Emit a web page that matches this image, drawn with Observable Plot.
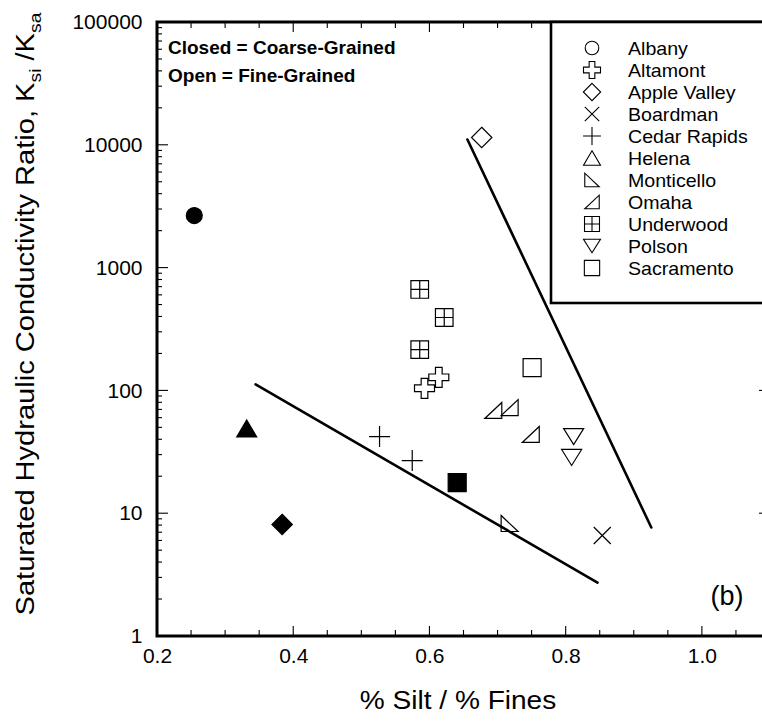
<!DOCTYPE html>
<html><head><meta charset="utf-8">
<script src="https://cdn.jsdelivr.net/npm/d3@7"></script>
<script src="https://cdn.jsdelivr.net/npm/@observablehq/plot@0.6"></script>
<style>
html,body{margin:0;padding:0;background:#fff;}
#chart{position:relative;width:762px;height:721px;overflow:hidden;}
</style></head><body><div id="chart"></div>
<script>
// ---- data ----
const sites  = ["Albany","Helena","Apple Valley","Cedar Rapids","Cedar Rapids","Sacramento","Underwood","Underwood","Underwood","Altamont","Altamont","Sacramento","Omaha","Omaha","Omaha","Polson","Polson","Monticello","Boardman","Apple Valley"];
const siltFrac = [0.254,0.331,0.383,0.526,0.574,0.640,0.585,0.621,0.585,0.613,0.592,0.750,0.693,0.717,0.748,0.811,0.808,0.717,0.853,0.676];
const ksRatio  = [2680,49.4,8.17,42.5,27.1,17.9,670,396,217,129,105,155,69.3,73.2,44.2,42.5,28.7,8.32,6.64,11580];
const closed   = [true,true,true,false,false,true,false,false,false,false,false,false,false,false,false,false,false,false,false,false];

const legendSites = ["Albany","Altamont","Apple Valley","Boardman","Cedar Rapids","Helena","Monticello","Omaha","Underwood","Polson","Sacramento"];

const upperLineX = [0.655,0.925];
const upperLineY = [11150,7.72];
const lowerLineX = [0.344,0.846];
const lowerLineY = [113,2.75];

const xMajorTicks = [0.2,0.4,0.6,0.8,1.0];
const xMinorTicks = [0.25,0.3,0.35,0.45,0.5,0.55,0.65,0.7,0.75,0.85,0.9,0.95,1.05];
const yMajorTicks = [1,10,100,1000,10000,100000];
const yMinorTicks = [2,3,4,5,6,7,8,9,20,30,40,50,60,70,80,90,200,300,400,500,600,700,800,900,2000,3000,4000,5000,6000,7000,8000,9000,20000,30000,40000,50000,60000,70000,80000,90000];

// ---- custom symbols ----
function sym(fn){ return {draw(c, size){ fn(c, Math.sqrt(size/Math.PI)); }}; }
function poly(c, pts){ c.moveTo(pts[0][0],pts[0][1]); for(let i=1;i<pts.length;i++) c.lineTo(pts[i][0],pts[i][1]); c.closePath(); }
const symbols = {
  "Albany": sym((c,r)=>{const a=0.8*r; c.moveTo(a,0); c.arc(0,0,a,0,2*Math.PI); c.closePath();}),
  "Altamont": sym((c,r)=>{const a=r, b=r/3; poly(c,[[-b,-a],[b,-a],[b,-b],[a,-b],[a,b],[b,b],[b,a],[-b,a],[-b,b],[-a,b],[-a,-b],[-b,-b]]);}),
  "Apple Valley": sym((c,r)=>{const a=1.02*r; poly(c,[[0,-a],[a,0],[0,a],[-a,0]]);}),
  "Boardman": sym((c,r)=>{const a=0.85*r; c.moveTo(-a,-a); c.lineTo(a,a); c.moveTo(a,-a); c.lineTo(-a,a);}),
  "Cedar Rapids": sym((c,r)=>{const a=1.05*r; c.moveTo(-a,0); c.lineTo(a,0); c.moveTo(0,-a); c.lineTo(0,a);}),
  "Helena": sym((c,r)=>{const a=r, h=0.85*r; poly(c,[[0,-h],[a,h],[-a,h]]);}),
  "Monticello": sym((c,r)=>{const a=0.85*r, h=0.8*r; poly(c,[[-a,-h],[-a,h],[a,h]]);}),
  "Omaha": sym((c,r)=>{const a=0.85*r, h=0.8*r; poly(c,[[a,-h],[a,h],[-a,h]]);}),
  "Underwood": sym((c,r)=>{const a=0.88*r; poly(c,[[-a,-a],[a,-a],[a,a],[-a,a]]); c.moveTo(0,-a); c.lineTo(0,a); c.moveTo(-a,0); c.lineTo(a,0);}),
  "Polson": sym((c,r)=>{const a=r, h=0.8*r; poly(c,[[-a,-h],[a,-h],[0,h]]);}),
  "Sacramento": sym((c,r)=>{const a=0.9*r; poly(c,[[-a,-a],[a,-a],[a,a],[-a,a]]);})
};

const idx = d3.range(sites.length);
const fontFam = "'Liberation Sans', Arial, Helvetica, sans-serif";

const dotMarks = [];
for (const s of legendSites) {
  dotMarks.push(Plot.dot(idx, {filter: i => sites[i]===s && !closed[i], x: i=>siltFrac[i], y: i=>ksRatio[i], symbol: symbols[s], r: 10, fill: "none", stroke: "black", strokeWidth: 1.2}));
  dotMarks.push(Plot.dot(idx, {filter: i => sites[i]===s && closed[i], x: i=>siltFrac[i], y: i=>ksRatio[i], symbol: symbols[s], r: 10, fill: "black", stroke: "black", strokeWidth: 1.2}));
}

const plot = Plot.plot({
  width: 762, height: 721,
  marginLeft: 157, marginRight: 0, marginTop: 22, marginBottom: 85,
  style: {fontFamily: fontFam, color: "black", background: "white"},
  x: {domain: [0.2, 1.1], range: [157, 770]},
  y: {type: "log", domain: [1, 100000], range: [636, 22]},
  marks: [
    Plot.axisX({ticks: xMajorTicks, tickSize: 0, tickPadding: 12, tickFormat: d3.format(".1f"), fontSize: 21, label: null}),
    Plot.axisY({ticks: yMajorTicks, tickSize: 0, tickPadding: 15, tickFormat: d => String(d), fontSize: 21, label: null}),
    Plot.line(upperLineX.map((x,i)=>({x, y: upperLineY[i]})), {x:"x", y:"y", stroke:"black", strokeWidth: 2.6}),
    Plot.line(lowerLineX.map((x,i)=>({x, y: lowerLineY[i]})), {x:"x", y:"y", stroke:"black", strokeWidth: 2.6}),
    ...dotMarks
  ]
});
document.getElementById("chart").appendChild(plot);

// ---- frame, ticks, annotations using the plot's own scales ----
const sx = plot.scale("x"), sy = plot.scale("y");
const X = v => sx.apply(v), Y = v => sy.apply(v);
const svg = d3.select(plot);
const x0 = X(0.2), x1 = X(1.1), y0 = Y(1), y1 = Y(100000);
const g = svg.append("g").attr("stroke", "black").attr("stroke-width", 1.1);
function tx(vals, len){ for (const v of vals){ const px = X(v);
  g.append("line").attr("x1",px).attr("x2",px).attr("y1",y0).attr("y2",y0-len);
  g.append("line").attr("x1",px).attr("x2",px).attr("y1",y1).attr("y2",y1+len);} }
function ty(vals, len){ for (const v of vals){ const py = Y(v);
  g.append("line").attr("y1",py).attr("y2",py).attr("x1",x0).attr("x2",x0+len);
  g.append("line").attr("y1",py).attr("y2",py).attr("x1",x1).attr("x2",x1-len);} }
tx(xMajorTicks, 10); tx(xMinorTicks, 6);
ty(yMajorTicks, 11); ty(yMinorTicks, 5);
svg.append("rect").attr("x",x0).attr("y",y1).attr("width",x1-x0).attr("height",y0-y1)
  .attr("fill","none").attr("stroke","black").attr("stroke-width",3);

// annotation text
const ann = svg.append("g").attr("font-family", fontFam).attr("font-weight","bold").attr("font-size",19)
  .attr("fill","black").attr("text-anchor","start");
ann.append("text").attr("x",168).attr("y",54).text("Closed = Coarse-Grained");
ann.append("text").attr("x",168).attr("y",82).text("Open = Fine-Grained");

svg.append("text").attr("x",727).attr("y",605).attr("text-anchor","middle")
  .attr("font-family",fontFam).attr("font-size",27).text("(b)");

// axis titles
svg.append("text").attr("transform","translate(458,709) scale(1.08,1)").attr("text-anchor","middle")
  .attr("font-family",fontFam).attr("font-size",26).text("% Silt / % Fines");
const yt = svg.append("text").attr("transform","translate(34,314) rotate(-90) scale(1.14,1)").attr("text-anchor","middle")
  .attr("font-family",fontFam).attr("font-size",25.5);
yt.append("tspan").text("Saturated Hydraulic Conductivity Ratio, K");
yt.append("tspan").attr("dy",7).attr("font-size",17).text("si");
yt.append("tspan").attr("dy",-7).text(" /K");
yt.append("tspan").attr("dy",7).attr("font-size",17).text("sa");

// legend
const lg = svg.append("g").attr("font-family", fontFam).attr("text-anchor","start");
lg.append("rect").attr("x",551).attr("y",y1).attr("width",240).attr("height",303-y1)
  .attr("fill","white").attr("stroke","black").attr("stroke-width",2.6);
legendSites.forEach((s, i) => {
  const cy = 48 + 22*i;
  const p = d3.path(); symbols[s].draw(p, Math.PI*8.5*8.5);
  lg.append("path").attr("d", p.toString()).attr("transform",`translate(592,${cy})`)
    .attr("fill","none").attr("stroke","black").attr("stroke-width",1.1);
  lg.append("text").attr("transform",`translate(628,${cy+6.5}) scale(1.06,1)`).attr("font-size",18.5)
    .attr("fill","black").text(s);
});
</script></body></html>
